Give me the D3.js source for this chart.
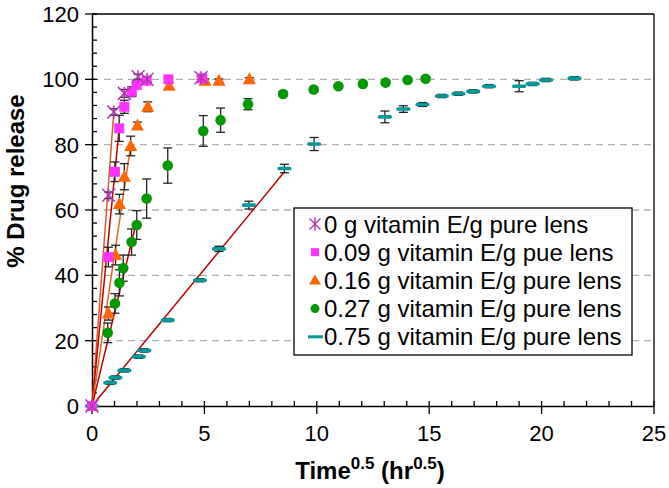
<!DOCTYPE html>
<html><head><meta charset="utf-8">
<script src="https://cdn.jsdelivr.net/npm/d3@7"></script>
<style>body{margin:0;background:#fff}</style>
</head><body>
<svg id="c" width="669" height="488"></svg>
<script>
const xTicks=[0,5,10,15,20,25];
const yTicks=[0,20,40,60,80,100,120];
const seriesNames=["0 g vitamin E/g pure lens","0.09 g vitamin E/g pue lens","0.16 g vitamin E/g pure lens","0.27 g vitamin E/g pure lens","0.75 g vitamin E/g pure lens"];
const s0x=[0,0.74,0.97,1.44,2.05,2.45,4.85];
const s0y=[0,64.5,90,95.7,100.8,100,100.5];
const s0e=[0,1,1,1.2,0.8,0.8,0.5];
const s1x=[0,0.73,1.02,1.21,1.44,1.77,1.99,2.43,3.4,4.9];
const s1y=[0,45.6,71.7,85,91.6,96.2,98.3,99.6,100,100.3];
const s1e=[0,3,3,4,2,1.5,1,0.5,0.5,0.5];
const s2x=[0,0.73,1.05,1.22,1.44,1.72,2.02,2.48,3.43,5.03,5.65,7.0];
const s2y=[0,28.3,46.2,61.8,70.2,79.6,85.9,91.6,98,99.6,99.6,100];
const s2e=[0,2,3,3,4,3,1,1.5,1,0.5,0.5,0.5];
const s3x=[0,0.7,1.02,1.22,1.39,1.76,1.99,2.43,3.37,4.95,5.72,6.94,8.5,9.86,10.96,12.05,13.06,14.04,14.84];
const s3y=[0,22.4,31.4,37.7,42.2,50.2,55.4,63.5,73.6,84.2,87.5,92.4,95.5,96.9,97.9,98.6,99,99.8,100.2];
const s3e=[0,3,3,4,4,4,4.4,6,5.4,4.7,3.7,1.7,0.7,0.5,0.5,0.5,0.5,0.5,0.5];
const s4x=[0,0.81,1.04,1.44,2.08,2.33,3.37,4.8,5.65,6.98,8.56,9.88,13.03,13.85,14.7,15.56,16.3,16.96,17.66,19.0,19.6,20.2,21.46];
const s4y=[0,7.1,8.7,10.9,15.1,17,26.3,38.5,48.1,61.5,72.7,80.2,88.5,90.9,92.3,94.9,95.6,96.3,97.9,97.9,98.6,99.8,100.3];
const s4e=[0,0.5,0.5,0.5,0.5,0.5,0.5,0.5,0.8,1.2,1.3,2,1.8,1,0.6,0.5,0.5,0.5,0.5,1.7,0.5,0.5,0.5];
// linear fit lines (start and end in data units)
const fitX=[[0,0.97],[0,1.21],[0,1.72],[0,2.0],[0,8.56]];
const fitY=[[0,90],[0,85],[0,79.6],[0,57],[0,71.7]];
const fitColors=["#E0552A","#C00000","#E8641E","#C00000","#C00000"];
const colors=["#B038B0","#FF33FF","#FF6600","#009900","#009999"];

const svg=d3.select("#c");
const L=92,R=654,T=14,B=406;
const x=d3.scaleLinear().domain([0,25]).range([L,R]);
const y=d3.scaleLinear().domain([0,120]).range([B,T]);
const font="Liberation Sans, Arial, sans-serif";

// grid
svg.append("g").selectAll("line").data(yTicks.filter(v=>v>0&&v<120)).join("line")
 .attr("x1",L).attr("x2",R).attr("y1",d=>y(d)).attr("y2",d=>y(d))
 .attr("stroke","#b0b0b0").attr("stroke-width",1.3).attr("stroke-dasharray","7,5");

// frame top/right
svg.append("line").attr("x1",L).attr("x2",R).attr("y1",T).attr("y2",T).attr("stroke","#000").attr("stroke-width",1.3);
svg.append("line").attr("x1",R).attr("x2",R).attr("y1",T).attr("y2",B).attr("stroke","#000").attr("stroke-width",1.3);

// axes
const xAx=svg.append("g").attr("transform",`translate(0,${B})`);
xAx.call(d3.axisBottom(x).tickValues(d3.range(0,26,1)).tickSize(0).tickFormat(""));
xAx.select(".domain").attr("stroke-width",1.5);
xAx.selectAll(".tick line").remove();
xAx.selectAll(".tickm").data(d3.range(0,26,1)).join("line").attr("class","tickm")
 .attr("x1",d=>x(d)).attr("x2",d=>x(d)).attr("y1",-5).attr("y2",d=>d%5===0?8:0)
 .attr("stroke","#000").attr("stroke-width",1.3);
svg.append("g").selectAll("text").data(xTicks).join("text")
 .attr("x",d=>x(d)).attr("y",B+35).attr("text-anchor","middle")
 .attr("font-family",font).attr("font-size",22).text(d=>d);

const yAx=svg.append("g").attr("transform",`translate(${L},0)`);
yAx.call(d3.axisLeft(y).tickValues(d3.range(0,121,4)).tickSize(0).tickFormat(""));
yAx.select(".domain").attr("stroke-width",1.5);
yAx.selectAll(".tickm").data(d3.range(0,121,4)).join("line").attr("class","tickm")
 .attr("y1",d=>y(d)).attr("y2",d=>y(d)).attr("x1",d=>d%20===0?-7:0).attr("x2",5)
 .attr("stroke","#000").attr("stroke-width",1.3);
svg.append("g").selectAll("text").data(yTicks).join("text")
 .attr("x",L-13).attr("y",d=>y(d)+8).attr("text-anchor","end")
 .attr("font-family",font).attr("font-size",22).text(d=>d);

// axis titles
svg.append("text").attr("transform","translate(24,181) rotate(-90)").attr("text-anchor","middle")
 .attr("font-family",font).attr("font-size",24).attr("font-weight","bold").text("% Drug release");
const xt=svg.append("text").attr("x",370).attr("y",479).attr("text-anchor","middle")
 .attr("font-family",font).attr("font-size",24).attr("font-weight","bold");
xt.append("tspan").text("Time");
xt.append("tspan").attr("font-size",17).attr("dy",-10).text("0.5");
xt.append("tspan").attr("dy",10).text(" (hr");
xt.append("tspan").attr("font-size",17).attr("dy",-10).text("0.5");
xt.append("tspan").attr("dy",10).text(")");

// fit lines
const lineG=svg.append("g");
fitX.forEach((fx,i)=>{
 lineG.append("line").attr("x1",x(fx[0])).attr("y1",y(fitY[i][0])).attr("x2",x(fx[1])).attr("y2",y(fitY[i][1]))
  .attr("stroke",fitColors[i]).attr("stroke-width",1.5);
});

const all=[[s0x,s0y,s0e],[s1x,s1y,s1e],[s2x,s2y,s2e],[s3x,s3y,s3e],[s4x,s4y,s4e]];

// error bars
const eg=svg.append("g").attr("stroke","#222").attr("stroke-width",1.3);
all.forEach(([xs,ys,es])=>{
 xs.forEach((xv,i)=>{
  const e=es[i]; if(!e) return;
  const cx=x(xv), y1=y(ys[i]+e), y2=y(ys[i]-e);
  eg.append("line").attr("x1",cx).attr("x2",cx).attr("y1",y1).attr("y2",y2);
  eg.append("line").attr("x1",cx-4.5).attr("x2",cx+4.5).attr("y1",y1).attr("y2",y1);
  eg.append("line").attr("x1",cx-4.5).attr("x2",cx+4.5).attr("y1",y2).attr("y2",y2);
 });
});

function marker(g,k,cx,cy){
 if(k===0){
  const s=6.5;
  g.append("path").attr("d",`M${cx-s},${cy-s}L${cx+s},${cy+s}M${cx-s},${cy+s}L${cx+s},${cy-s}M${cx},${cy-s}L${cx},${cy+s}`)
   .attr("stroke",colors[0]).attr("stroke-width",1.5).attr("fill","none");
 } else if(k===1){
  g.append("rect").attr("x",cx-5).attr("y",cy-5).attr("width",10).attr("height",10).attr("fill",colors[1]);
 } else if(k===2){
  g.append("path").attr("d",`M${cx},${cy-7}L${cx+6.5},${cy+5}L${cx-6.5},${cy+5}Z`).attr("fill",colors[2]);
 } else if(k===3){
  g.append("circle").attr("cx",cx).attr("cy",cy).attr("r",5.3).attr("fill",colors[3]);
 } else {
  g.append("rect").attr("x",cx-7).attr("y",cy-1.8).attr("width",14).attr("height",3.6).attr("rx",1.5).attr("fill",colors[4]);
 }
}
const mg=svg.append("g");
[4,3,2,1,0].forEach(k=>{
 const [xs,ys]=all[k];
 xs.forEach((xv,i)=>marker(mg,k,x(xv),y(ys[i])));
});

// legend
const lg=svg.append("g");
lg.append("rect").attr("x",294).attr("y",208).attr("width",338).attr("height",147)
 .attr("fill","#fff").attr("stroke","#000").attr("stroke-width",1.3);
seriesNames.forEach((n,k)=>{
 const ly=224+k*28.2;
 const lm=lg.append("g");
 if(k===0){
  const cx=315,cy=ly,s=5.5;
  lm.append("path").attr("d",`M${cx-s},${cy-s}L${cx+s},${cy+s}M${cx-s},${cy+s}L${cx+s},${cy-s}M${cx},${cy-s-1}L${cx},${cy+s+1}`)
   .attr("stroke",colors[0]).attr("stroke-width",1.4);
 } else if(k===1){ lm.append("rect").attr("x",311).attr("y",ly-4).attr("width",8).attr("height",8).attr("fill",colors[1]); }
 else if(k===2){ lm.append("path").attr("d",`M315,${ly-6}L321,${ly+4}L309,${ly+4}Z`).attr("fill",colors[2]); }
 else if(k===3){ lm.append("circle").attr("cx",315).attr("cy",ly).attr("r",4.5).attr("fill",colors[3]); }
 else { lm.append("rect").attr("x",308).attr("y",ly-1.5).attr("width",15).attr("height",3).attr("fill",colors[4]); }
 lg.append("text").attr("x",324).attr("y",ly+8.5).attr("font-family",font).attr("font-size",24).text(n);
});
</script>
</body></html>
